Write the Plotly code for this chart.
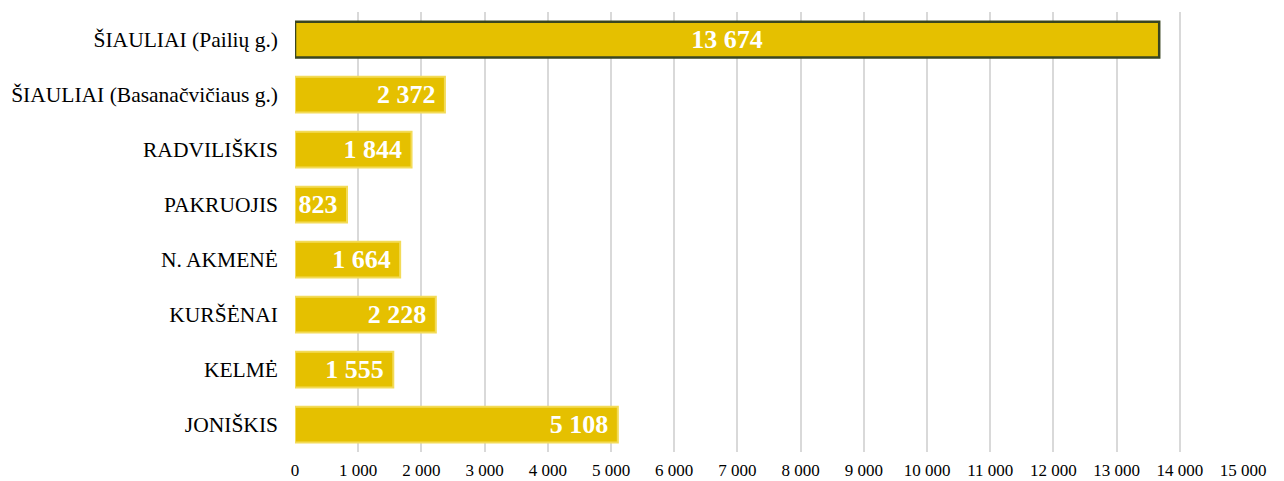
import plotly.graph_objects as go

categories = ["JONIŠKIS", "KELMĖ", "KURŠĖNAI", "N. AKMENĖ", "PAKRUOJIS",
              "RADVILIŠKIS", "ŠIAULIAI (Basanačvičiaus g.)", "ŠIAULIAI (Pailių g.)"]
values = [5108, 1555, 2228, 1664, 823, 1844, 2372, 13674]
tick_vals = list(range(0, 15001, 1000))

highlight = "ŠIAULIAI (Pailių g.)"
main_idx = [i for i, c in enumerate(categories) if c != highlight]
hi_idx = [i for i, c in enumerate(categories) if c == highlight]

font_family = "Liberation Serif, Times New Roman, serif"

fig = go.Figure()
fig.add_trace(go.Bar(
    y=[categories[i] for i in main_idx], x=[values[i] for i in main_idx],
    orientation="h",
    marker=dict(color="#E5C000", line=dict(color="#F3DB58", width=2)),
    texttemplate="%{x:,d}\u00a0", textposition="inside", insidetextanchor="end",
    textangle=0, constraintext="none",
    textfont=dict(family=font_family, size=26, color="white", weight="bold"),
    width=0.65,
))
fig.add_trace(go.Bar(
    y=[categories[i] for i in hi_idx], x=[values[i] for i in hi_idx],
    orientation="h",
    marker=dict(color="#E5C000", line=dict(color="#3A4620", width=2.5)),
    texttemplate="%{x:,d}", textposition="inside", insidetextanchor="middle",
    textangle=0, constraintext="none",
    textfont=dict(family=font_family, size=26, color="white", weight="bold"),
    width=0.65,
))

fig.update_layout(
    width=1284, height=481,
    margin=dict(l=287, r=49, t=4, b=37, autoexpand=False),
    plot_bgcolor="white", paper_bgcolor="white",
    barmode="overlay", showlegend=False,
    separators=", ",
    font=dict(family=font_family, color="black"),
)
fig.update_xaxes(
    range=[0, 15000], tickvals=tick_vals, tickformat=",d",
    showgrid=True, gridcolor="#D9D9D9", gridwidth=1.5,
    zeroline=False, showline=False, ticks="", automargin=False,
    ticklabelstandoff=6,
    tickfont=dict(family=font_family, size=17, color="black"),
)
fig.update_yaxes(
    categoryorder="array", categoryarray=categories,
    range=[-0.5, len(categories) - 0.5],
    showgrid=False, zeroline=False, showline=False, ticks="", automargin=False,
    ticklabelstandoff=16,
    tickfont=dict(family=font_family, size=21.5, color="black"),
)

fig.write_html("out.html")
